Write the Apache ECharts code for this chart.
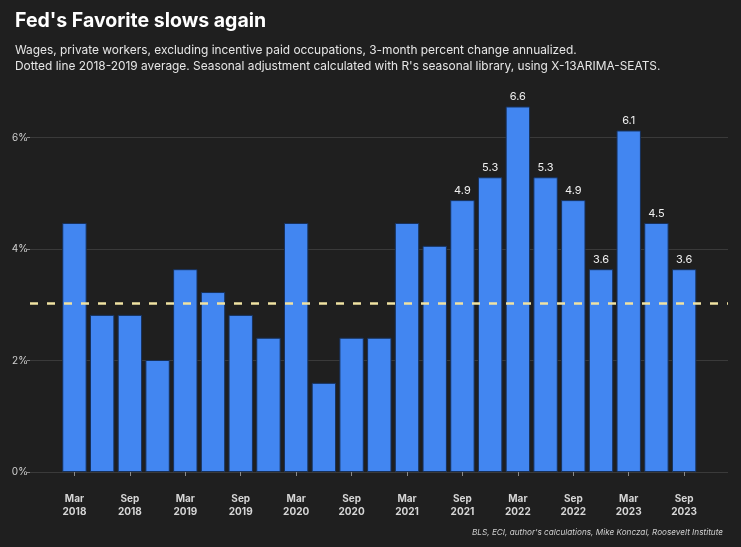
<!DOCTYPE html>
<html><head><meta charset="utf-8">
<script src="https://cdn.jsdelivr.net/npm/echarts@6/dist/echarts.min.js"></script>
<style>html,body{margin:0;padding:0;background:#1f1f1f;}#c{width:741px;height:547px;}</style>
</head><body><div id="c"></div>
<script>
const categories = ["Mar\n2018","Jun\n2018","Sep\n2018","Dec\n2018","Mar\n2019","Jun\n2019","Sep\n2019","Dec\n2019","Mar\n2020","Jun\n2020","Sep\n2020","Dec\n2020","Mar\n2021","Jun\n2021","Sep\n2021","Dec\n2021","Mar\n2022","Jun\n2022","Sep\n2022","Dec\n2022","Mar\n2023","Jun\n2023","Sep\n2023"];
const wageGrowth = [4.47,2.82,2.82,2.01,3.64,3.23,2.82,2.41,4.47,1.60,2.41,2.41,4.47,4.06,4.88,5.29,6.56,5.29,4.88,3.64,6.13,4.47,3.64];
const labelFrom = 14; // bars from Sep 2021 carry value labels
const average2018_2019 = 3.03;
const yTicks = [0,2,4,6];

const chart = echarts.init(document.getElementById('c'), null, {renderer:'canvas'});
const font = 'Inter, "Noto Sans", sans-serif';
chart.setOption({
  backgroundColor:'#1f1f1f',
  animation:false,
  title:[
    {text:"Fed's Favorite slows again", left:10, top:6, textStyle:{color:'#ffffff', fontSize:19.5, fontWeight:'bold', fontFamily:font}},
    {text:"Wages, private workers, excluding incentive paid occupations, 3-month percent change annualized.\nDotted line 2018-2019 average. Seasonal adjustment calculated with R's seasonal library, using X-13ARIMA-SEATS.",
     left:10, top:37, textStyle:{color:'#e6e6e6', fontSize:11.9, fontWeight:'normal', lineHeight:16, fontFamily:font}},
    {text:"BLS, ECI, author's calculations, Mike Konczal, Roosevelt Institute", right:13, top:524,
     textStyle:{color:'#cfcfcf', fontSize:8.2, fontStyle:'italic', fontWeight:'normal', fontFamily:font}}
  ],
  grid:[
    {left:30, right:13, top:82, bottom:75},
    {left:60.6, right:43, top:82, bottom:75}
  ],
  xAxis:[
    {type:'value', gridIndex:0, min:0, max:1, show:false},
    {type:'category', gridIndex:1, data:categories, offset:17,
     axisLine:{show:false},
     axisTick:{show:true, alignWithLabel:true, interval:1, length:4, lineStyle:{color:'#8a8a8a'}},
     axisLabel:{interval:1, color:'#d6d6d6', fontSize:10, fontWeight:'bold', lineHeight:13, margin:3, fontFamily:font}}
  ],
  yAxis:[
    {type:'value', gridIndex:0, min:0, max:7, interval:1,
     axisLine:{show:false},
     axisTick:{show:true, length:3, customValues:yTicks, lineStyle:{color:'#8a8a8a'}},
     axisLabel:{color:'#cfcfcf', fontSize:10, margin:2, fontFamily:font, customValues:yTicks,
       formatter:v=> v+'%'},
     splitLine:{lineStyle:{color:'#3a3a3a', width:1}, interval:(i,v)=>yTicks.includes(Number(v))}},
    {type:'value', gridIndex:1, min:0, max:7, show:false, splitLine:{show:false}}
  ],
  series:[
    {type:'line', xAxisIndex:0, yAxisIndex:0, data:[], silent:true,
     markLine:{symbol:'none', silent:true, label:{show:false},
       lineStyle:{color:'#f0e2a2', width:2.5, type:[8,9]},
       data:[{yAxis:average2018_2019}]}},
    {type:'bar', xAxisIndex:1, yAxisIndex:1, barWidth:'88%',
     itemStyle:{color:'#4286f1', borderColor:'#17315a', borderWidth:1},
     data: wageGrowth.map((v,i)=>({value:v, label:{show:i>=labelFrom}})),
     label:{position:'top', color:'#f0f0f0', fontSize:11, distance:4, fontFamily:font,
       formatter:p=>p.value.toFixed(1)},
     z:3}
  ]
});
</script></body></html>
